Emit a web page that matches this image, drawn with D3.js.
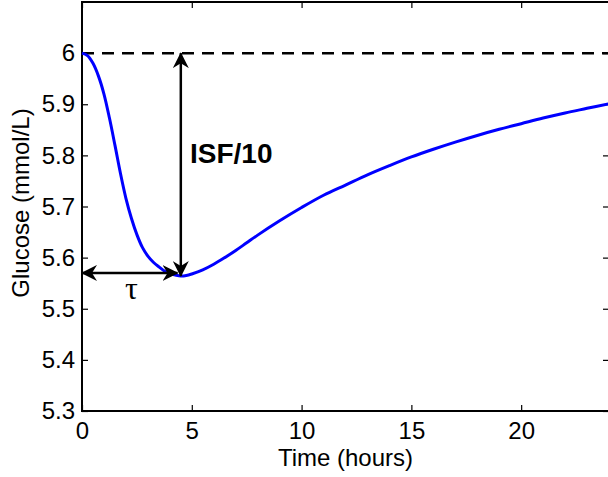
<!DOCTYPE html>
<html>
<head>
<meta charset="utf-8">
<script src="https://cdn.jsdelivr.net/npm/d3@7"></script>
<style>
  body { margin: 0; background: #fff; }
  text { font-family: Arial, "Liberation Sans", sans-serif; }
</style>
</head>
<body>
<div id="chart"></div>
<script>
// glucose response after a carb/insulin step
var hours = [0, 0.25, 0.5, 0.75, 1, 1.25, 1.5, 1.75, 2, 2.25, 2.5, 2.75, 3, 3.25, 3.5, 3.75, 4, 4.25, 4.5, 4.75,
  5, 5.5, 6, 6.5, 7, 7.5, 8, 9, 10, 11, 12, 13, 14, 15, 16, 17, 18, 19, 20, 21, 22, 23, 24];
var glucose = [6.0, 5.995, 5.98, 5.955, 5.92, 5.873, 5.82, 5.765, 5.716, 5.677, 5.645, 5.620, 5.603, 5.591, 5.582, 5.574, 5.569, 5.566, 5.564, 5.565,
  5.568, 5.576, 5.587, 5.600, 5.614, 5.629, 5.644, 5.672, 5.698, 5.722, 5.742, 5.762, 5.780, 5.797, 5.812, 5.826, 5.839, 5.851, 5.862, 5.873, 5.883, 5.892, 5.901];
var baseline = 6.0;
var xTicks = [0, 5, 10, 15, 20];
var yTicks = [5.3, 5.4, 5.5, 5.6, 5.7, 5.8, 5.9, 6];

// annotation positions (data units)
var isfArrow = {t: 4.5, from: 6.0, to: 5.564};
var tauArrow = {g: 5.57, from: 0, to: 4.35};

var svgWidth = 608;
var svgHeight = 477;

var x = d3.scaleLinear().domain([0, 24]).range([82, 609]);
var y = d3.scaleLinear().domain([5.3, 6.1]).range([411, 2]);

var svg = d3.select("#chart")
    .append("svg")
    .attr("width", svgWidth)
    .attr("height", svgHeight);

// box with inward ticks on all sides (matlab style)
var tickLen = 6;
var bottomAxis = d3.axisBottom(x).tickValues(xTicks).tickSizeInner(-tickLen).tickSizeOuter(0).tickPadding(11).tickFormat(d3.format("d"));
var leftAxis = d3.axisLeft(y).tickValues(yTicks).tickSizeInner(-tickLen).tickSizeOuter(0).tickPadding(7).tickFormat(d => d === 6 ? "6" : d3.format(".1f")(d));
var topAxis = d3.axisTop(x).tickValues(xTicks).tickSizeInner(-tickLen).tickSizeOuter(0).tickFormat("");
var rightAxis = d3.axisRight(y).tickValues(yTicks).tickSizeInner(-tickLen).tickSizeOuter(0).tickFormat("");

function styleAxis(g) {
  g.select(".domain").remove();
  g.selectAll(".tick line").attr("stroke", "#000").attr("stroke-width", 1.2);
  g.selectAll("text").attr("fill", "#000").style("font-size", "24px");
}

svg.append("g").attr("transform", `translate(0,${y(5.3)})`).call(bottomAxis).call(styleAxis);
svg.append("g").attr("transform", `translate(${x(0)},0)`).call(leftAxis).call(styleAxis);
svg.append("g").attr("transform", `translate(0,${y(6.1)})`).call(topAxis).call(styleAxis);
svg.append("g").attr("transform", `translate(${x(24)},0)`).call(rightAxis).call(styleAxis);

svg.append("rect")
    .attr("x", x(0)).attr("y", y(6.1))
    .attr("width", x(24) - x(0)).attr("height", y(5.3) - y(6.1))
    .attr("fill", "none").attr("stroke", "#000").attr("stroke-width", 2);

// baseline dashed
svg.append("line")
    .attr("x1", x(0)).attr("x2", x(24))
    .attr("y1", y(baseline)).attr("y2", y(baseline))
    .attr("stroke", "#000").attr("stroke-width", 2.5)
    .attr("stroke-dasharray", "12,8");

// glucose curve
var data = hours.map((h, i) => ({t: h, g: glucose[i]}));
var line = d3.line().x(d => x(d.t)).y(d => y(d.g)).curve(d3.curveCatmullRom);
svg.append("path")
    .datum(data)
    .attr("d", line)
    .attr("fill", "none")
    .attr("stroke", "#0000ff")
    .attr("stroke-width", 3);

// arrowheads
var defs = svg.append("defs");
defs.append("marker")
    .attr("id", "head")
    .attr("viewBox", "0 0 16 16")
    .attr("refX", 15).attr("refY", 8)
    .attr("markerWidth", 16).attr("markerHeight", 16)
    .attr("markerUnits", "userSpaceOnUse")
    .attr("orient", "auto-start-reverse")
    .append("path")
    .attr("d", "M0,0 L16,8 L0,16 L5,8 Z")
    .attr("fill", "#000");

svg.append("line")
    .attr("x1", x(isfArrow.t)).attr("x2", x(isfArrow.t))
    .attr("y1", y(isfArrow.from)).attr("y2", y(isfArrow.to))
    .attr("stroke", "#000").attr("stroke-width", 2.5)
    .attr("marker-start", "url(#head)")
    .attr("marker-end", "url(#head)");

svg.append("line")
    .attr("x1", x(tauArrow.from)).attr("x2", x(tauArrow.to))
    .attr("y1", y(tauArrow.g)).attr("y2", y(tauArrow.g))
    .attr("stroke", "#000").attr("stroke-width", 2.5)
    .attr("marker-start", "url(#head)")
    .attr("marker-end", "url(#head)");

svg.append("text")
    .attr("x", 190).attr("y", 163)
    .style("font-size", "28px").style("font-weight", "bold")
    .text("ISF/10");

svg.append("text")
    .attr("x", 125).attr("y", 299)
    .style("font-size", "32px")
    .style("font-family", "'Liberation Serif', 'DejaVu Serif', serif")
    .text("\u03c4");

// axis labels
svg.append("text")
    .attr("x", (x(0) + x(24)) / 2).attr("y", 466)
    .attr("text-anchor", "middle")
    .style("font-size", "24px")
    .text("Time (hours)");

svg.append("text")
    .attr("transform", "rotate(-90)")
    .attr("x", -203).attr("y", 29)
    .attr("text-anchor", "middle")
    .style("font-size", "24px")
    .text("Glucose (mmol/L)");
</script>
</body>
</html>
